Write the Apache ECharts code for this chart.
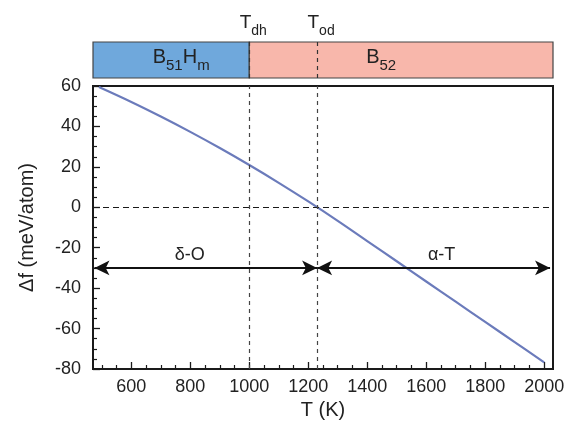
<!DOCTYPE html>
<html><head><meta charset="utf-8">
<script src="https://cdn.jsdelivr.net/npm/echarts@6/dist/echarts.min.js"></script>
<style>html,body{margin:0;padding:0;background:#fff}#c{width:573px;height:427px}</style>
</head><body><div id="c"></div>
<script>
// ---- data ----
const temps = [490, 600, 700, 800, 900, 1000, 1100, 1200, 1300, 1400, 1500, 1600, 1700, 1800, 1900, 2000];
const deltaF = [59.5, 52.1, 44.9, 37.3, 29.3, 20.9, 12.1, 2.9, -6.7, -16.7, -26.7, -36.7, -46.7, -56.7, -66.7, -76.7];
const xTicks = [600, 800, 1000, 1200, 1400, 1600, 1800, 2000];
const xMinorTicks = [500, 550, 650, 700, 750, 850, 900, 950, 1050, 1100, 1150, 1250, 1300, 1350, 1450, 1500, 1550, 1650, 1700, 1750, 1850, 1900, 1950];
const xRange = [470, 2030];
const yRange = [-80, 60];
const transNames = ['dh', 'od'];
const transTemps = [1000, 1230];
const phaseLabels = ['{b|B}{s|51}{b|H}{s|m}', '{b|B}{s|52}'];
const phaseBounds = [[470, 1000], [1000, 2030]];
const phaseColors = ['#6fa8dc', '#f8b7ab'];
const regionNames = ['δ-O', 'α-T'];
const regionBounds = [[475, 1230], [1230, 2020]];
const regionY = -30;

const FONT = 'Liberation Sans, Arial, sans-serif';
const chart = echarts.init(document.getElementById('c'));

const subRich = {
  b: {fontSize: 20, fontFamily: FONT, color: '#222', padding: [0, 0, 6, 0], verticalAlign: 'bottom'},
  s: {fontSize: 15, fontFamily: FONT, color: '#222', verticalAlign: 'bottom'}
};
const tRich = {
  t: {fontSize: 19, fontFamily: FONT, color: '#222', padding: [0, 0, 6, 0], verticalAlign: 'bottom'},
  s: {fontSize: 14, fontFamily: FONT, color: '#222', verticalAlign: 'bottom'}
};

chart.setOption({
  animation: false,
  grid: [
    {left: 93, right: 20, top: 86, bottom: 58, show: true, borderColor: '#1a1a1a', borderWidth: 2, backgroundColor: 'transparent'},
    {left: 93, right: 20, top: 42, height: 36}
  ],
  xAxis: [
    {
      type: 'value', gridIndex: 0, min: xRange[0], max: xRange[1],
      name: 'T (K)', nameLocation: 'middle', nameGap: 30,
      nameTextStyle: {fontSize: 20, fontFamily: FONT, color: '#222'},
      axisLine: {show: true, onZero: false, lineStyle: {color: '#1a1a1a', width: 2}},
      axisTick: {show: true, inside: true, length: 7, customValues: xTicks, lineStyle: {color: '#1a1a1a', width: 1.3}},
      axisLabel: {customValues: xTicks, margin: 9, fontSize: 18, fontFamily: FONT, color: '#222', formatter: v => String(v)},
      splitLine: {show: false}
    },
    {
      type: 'value', gridIndex: 0, min: xRange[0], max: xRange[1], position: 'bottom',
      axisLine: {show: false, onZero: false},
      axisTick: {show: true, inside: true, length: 4, customValues: xMinorTicks, lineStyle: {color: '#1a1a1a', width: 1.2}},
      axisLabel: {show: false},
      splitLine: {show: false}
    },
    {type: 'value', gridIndex: 1, min: xRange[0], max: xRange[1], show: false}
  ],
  yAxis: [
    {
      type: 'value', gridIndex: 0, min: yRange[0], max: yRange[1], interval: 20,
      name: 'Δf (meV/atom)', nameLocation: 'middle', nameGap: 56,
      nameTextStyle: {fontSize: 20, fontFamily: FONT, color: '#222'},
      axisLine: {show: true, onZero: false, lineStyle: {color: '#1a1a1a', width: 2}},
      axisTick: {show: true, inside: true, length: 7, lineStyle: {color: '#1a1a1a', width: 1.3}},
      minorTick: {show: true, splitNumber: 4, length: 4, lineStyle: {color: '#1a1a1a', width: 1.2}},
      axisLabel: {margin: 12, fontSize: 18, fontFamily: FONT, color: '#222'},
      splitLine: {show: false}
    },
    {type: 'value', gridIndex: 1, min: 0, max: 1, show: false}
  ],
  series: [
    {
      type: 'line', xAxisIndex: 0, yAxisIndex: 0, smooth: 0.4, symbol: 'none',
      data: temps.map((t, i) => [t, deltaF[i]]),
      lineStyle: {color: '#6b7bbb', width: 2.2},
      z: 3,
      markLine: {
        silent: true, symbol: 'none', animation: false,
        label: {show: false},
        data: [
          {yAxis: 0, lineStyle: {type: [6, 4], color: '#1a1a1a', width: 1.1}},
          ...transTemps.map(t => ({xAxis: t, lineStyle: {type: [4, 4], color: '#444', width: 1.2}})),
          ...regionNames.map((n, i) => [
            {coord: [regionBounds[i][0], regionY], symbol: 'arrow', symbolSize: [11, 15],
             lineStyle: {type: 'solid', color: '#111', width: 2.2},
             label: {show: true, formatter: n, position: 'middle', distance: 4, offset: [i === 0 ? -16 : 8, 0], fontSize: 18, fontFamily: FONT, color: '#222'}},
            {coord: [regionBounds[i][1], regionY], symbol: 'arrow', symbolSize: [11, 15]}
          ])
        ]
      }
    },
    {
      type: 'line', xAxisIndex: 2, yAxisIndex: 1, data: [], symbol: 'none',
      markArea: {
        silent: true,
        data: phaseLabels.map((lab, i) => [
          {xAxis: phaseBounds[i][0], itemStyle: {color: phaseColors[i], borderColor: '#444', borderWidth: 1.2},
           label: {show: true, position: 'inside', formatter: lab, rich: subRich, offset: [i === 0 ? 10 : -20, 0]}},
          {xAxis: phaseBounds[i][1]}
        ])
      },
      markLine: {
        silent: true, symbol: 'none',
        data: transNames.map((n, i) => ({
          xAxis: transTemps[i],
          lineStyle: {type: [4, 4], color: '#333', width: 1.2},
          label: {show: true, position: 'end', distance: 4, formatter: '{t|T}{s|' + n + '}', rich: tRich, offset: [4, 0]}
        }))
      }
    }
  ]
});
</script>
</body></html>
